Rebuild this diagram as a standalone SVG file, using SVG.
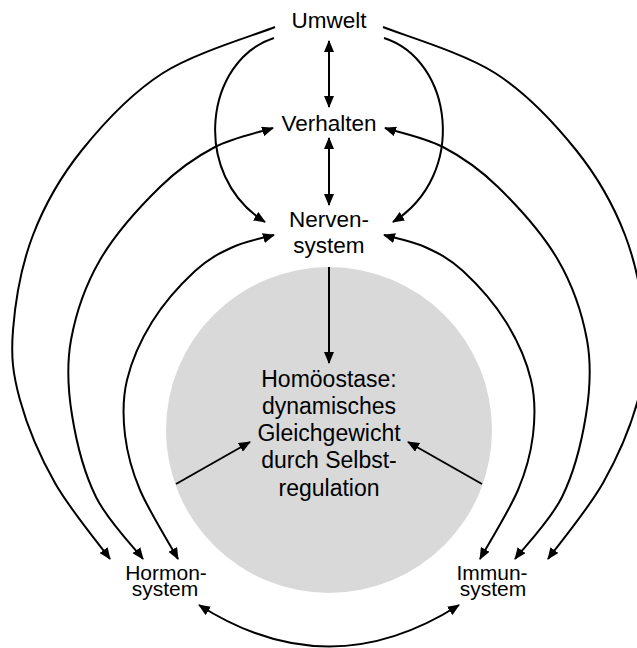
<svg xmlns="http://www.w3.org/2000/svg" xmlns:xlink="http://www.w3.org/1999/xlink" width="637" height="648" viewBox="0 0 637 648">
  <style>
    .lbl { font-family: "Liberation Sans", Arial, sans-serif; fill: #000; text-anchor: middle; }
    .big { font-size: 22.5px; }
    .mid { font-size: 23px; }
    .small { font-size: 21px; }
    .con { fill: none; stroke: #000; stroke-width: 2; }
    .one { marker-end: url(#ah); }
    .two { marker-start: url(#ah); marker-end: url(#ah); }
  </style>
  <defs>
    <marker id="ah" viewBox="0 0 12 10" refX="11" refY="5" markerWidth="12" markerHeight="10" markerUnits="userSpaceOnUse" orient="auto-start-reverse">
      <path d="M0,0 L12,5 L0,10 z" fill="#000"/>
    </marker>
  </defs>

  <!-- central state: homeostasis disc -->
  <g id="homoeostase">
    <circle cx="329" cy="430" r="163" fill="#d9d9d9"/>
    <text class="lbl mid" x="329" y="387">Homöostase:</text>
    <text class="lbl mid" x="329" y="414">dynamisches</text>
    <text class="lbl mid" x="329" y="441">Gleichgewicht</text>
    <text class="lbl mid" x="329" y="468">durch Selbst-</text>
    <text class="lbl mid" x="329" y="496">regulation</text>
  </g>

  <g id="umwelt">
    <text class="lbl big" x="329" y="28">Umwelt</text>
  </g>
  <g id="verhalten">
    <text class="lbl big" x="329" y="131">Verhalten</text>
  </g>
  <g id="nervensystem">
    <text class="lbl big" x="329" y="227">Nerven-</text>
    <text class="lbl big" x="329" y="253">system</text>
  </g>
  <!-- tightly set two-line labels -->
  <g id="hormonsystem">
    <text class="lbl small"><tspan x="166" y="580">Hormon-</tspan><tspan x="165" y="596">system</tspan></text>
  </g>
  <g id="immunsystem">
    <text class="lbl small"><tspan x="492" y="580">Immun-</tspan><tspan x="493" y="596">system</tspan></text>
  </g>

  <g id="connectors">
    <!-- vertical axis -->
    <path class="con two" d="M329,41 L329,107"/>
    <path class="con two" d="M329,138 L329,205"/>
    <path class="con one" d="M329,267 L329,363"/>

    <!-- left-hand curves; the right-hand ones are their mirror images -->
    <path id="c-um-nerv" class="con one" d="M274,38 C205,60 190,175 265,222"/>
    <path id="c-um-horm" class="con one" d="M275,27 C256.3,34.7 195.2,52.5 163,73 C130.8,93.5 103.7,123 82,150 C60.3,177 44.5,205 33,235 C21.5,265 15.2,302.5 13,330 C10.8,357.5 13,374.5 20,400 C27,425.5 40,456.5 55,483 C70,509.5 100.8,546.3 110,559"/>
    <path id="c-verh-horm" class="con two" d="M273,128 C263.3,131.2 233.8,137.2 215,147 C196.2,156.8 179.2,168.2 160,187 C140.8,205.8 114.8,234.5 100,260 C85.2,285.5 75.7,314.2 71,340 C66.3,365.8 67.8,388.8 72,415 C76.2,441.2 84.2,473 96,497 C107.8,521 135.2,548.7 143,559"/>
    <path id="c-nerv-horm" class="con two" d="M274,235 C267.2,237 246.2,241 233,247 C219.8,253 208.5,258.5 195,271 C181.5,283.5 163.3,303.8 152,322 C140.7,340.2 131.5,361.2 127,380 C122.5,398.8 122.8,416.7 125,435 C127.2,453.3 131.2,469.3 140,490 C148.8,510.7 171.7,547.5 178,559"/>

    <g transform="matrix(-1 0 0 1 658 0)">
      <use xlink:href="#c-um-nerv"/>
      <use xlink:href="#c-um-horm"/>
      <use xlink:href="#c-verh-horm"/>
      <use xlink:href="#c-nerv-horm"/>
    </g>

    <!-- Hormonsystem to Immunsystem -->
    <path class="con two" d="M199,605 Q329,688 459,605"/>

    <!-- feedback into the disc -->
    <path class="con one" d="M176,484 L250,442"/>
    <path class="con one" d="M482,484 L408,442"/>
  </g>
</svg>
